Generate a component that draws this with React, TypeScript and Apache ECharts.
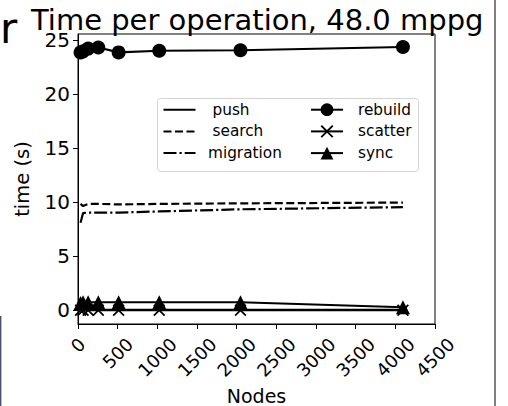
import React, { useEffect, useRef } from "react";
import * as echarts from "echarts";

const FONT = "DejaVu Sans";

const nodes = [32, 64, 128, 256, 512, 1024, 2048, 4096];
const push = [0.05, 0.05, 0.05, 0.05, 0.05, 0.05, 0.05, 0.05];
const search = [9.85, 9.65, 9.85, 9.85, 9.8, 9.85, 9.9, 9.97];
const migration = [8.1, 9.0, 9.05, 9.05, 9.05, 9.15, 9.35, 9.55];
const rebuild = [23.85, 23.95, 24.2, 24.3, 23.85, 24.0, 24.05, 24.35];
const scatter = [0.02, 0.02, 0.02, 0.02, 0.02, 0.02, 0.02, 0.02];
const sync = [0.7, 0.76, 0.76, 0.76, 0.76, 0.76, 0.76, 0.3];

const yTicks = [0, 5, 10, 15, 20, 25];
const titleText = "Time per operation, 48.0 mppg";

const X_PATH =
  "path://M1,0 L5,4 L9,0 L10,1 L6,5 L10,9 L9,10 L5,6 L1,10 L0,9 L4,5 L0,1 Z";

function pts(ys: number[]) {
  return nodes.map((x, i) => [x, ys[i]]);
}

export default function App() {
  const ref = useRef<HTMLDivElement>(null);
  useEffect(() => {
    if (!ref.current) return;
    const chart = echarts.init(ref.current, null, { renderer: "svg" });
    const xTickStyle = { fontSize: 18, fontFamily: FONT, color: "#000" };
    const lineBase = {
      type: "line" as const,
      showSymbol: false,
      symbol: "circle",
      itemStyle: { color: "#000" },
      silent: true,
    };
    const hidden = { opacity: 0, color: "rgba(0,0,0,0)", borderWidth: 0 };
    chart.setOption({
      animation: false,
      backgroundColor: "#fff",
      title: {
        text: titleText,
        left: 31,
        top: 5,
        padding: 0,
        textStyle: { fontSize: 29, fontWeight: "normal", color: "#000", fontFamily: FONT },
      },
      grid: {
        left: 78,
        right: 73,
        top: 34,
        bottom: 82,
        show: true,
        borderColor: "#000",
        borderWidth: 1,
        backgroundColor: "transparent",
        containLabel: false,
        outerBoundsMode: "none",
      },
      xAxis: {
        type: "value",
        min: 0,
        max: 4500,
        interval: 500,
        name: "Nodes",
        nameLocation: "middle",
        nameGap: 61,
        nameTextStyle: { fontSize: 19, fontFamily: FONT, color: "#000", lineHeight: 19 },
        axisLine: { show: true, onZero: false, lineStyle: { color: "#000", width: 1 } },
        axisTick: { show: true, length: 5, lineStyle: { color: "#000", width: 1 } },
        splitLine: { show: false },
        axisLabel: {
          rotate: 45,
          align: "center",
          verticalAlign: "middle",
          margin: 21,
          hideOverlap: false,
          formatter: (v: number) => `{l${String(v).length}|${v}}`,
          rich: {
            l1: { ...xTickStyle, padding: [0, 0, 0, 0] },
            l3: { ...xTickStyle, padding: [11.5, 11.5, 0, 0] },
            l4: { ...xTickStyle, padding: [17.2, 17.2, 0, 0] },
          },
        },
      },
      yAxis: {
        type: "value",
        min: -1.25,
        max: 25.55,
        name: "time (s)",
        nameLocation: "middle",
        nameGap: 46,
        nameRotate: 90,
        nameTextStyle: { fontSize: 19.5, fontFamily: FONT, color: "#000" },
        axisLine: { show: true, onZero: false, lineStyle: { color: "#000", width: 1 } },
        axisTick: {
          show: true,
          length: 5,
          customValues: yTicks,
          lineStyle: { color: "#000", width: 1 },
        },
        splitLine: { show: false },
        axisLabel: {
          fontSize: 20,
          fontFamily: FONT,
          color: "#000",
          margin: 8,
          customValues: yTicks,
        },
      },
      legend: [
        {
          orient: "vertical",
          left: 162.5,
          top: 102.2,
          padding: 0,
          itemWidth: 32,
          itemHeight: 16,
          itemGap: 6.7,
          selectedMode: false,
          z: 5,
          lineStyle: { width: 2 },
          textStyle: { fontSize: 15.3, fontFamily: FONT, color: "#000" },
          data: [
            { name: "push", itemStyle: hidden, textStyle: { padding: [0, 0, 0, 12] } },
            { name: "search", itemStyle: hidden, textStyle: { padding: [0, 0, 0, 12] } },
            { name: "migration", itemStyle: hidden, textStyle: { padding: [0, 0, 0, 7.5] } },
          ],
        },
        {
          orient: "vertical",
          left: 310,
          top: 102.2,
          padding: 0,
          itemWidth: 32,
          itemHeight: 16,
          itemGap: 6.7,
          selectedMode: false,
          z: 5,
          lineStyle: { width: 2 },
          textStyle: { fontSize: 15.3, fontFamily: FONT, color: "#000", padding: [0, 0, 0, 10] },
          data: ["rebuild", "scatter", "sync"],
        },
      ],
      graphic: [
        {
          type: "rect",
          z: 3,
          shape: { x: 157.5, y: 98.5, width: 261, height: 73, r: 3 },
          style: { fill: "rgba(255,255,255,0.8)", stroke: "#d5d5d5", lineWidth: 1 },
        },
        {
          type: "text",
          z: 3,
          x: 0,
          y: 28,
          style: { text: "r", font: `42px "${FONT}"`, fill: "#000", verticalAlign: "middle" },
        },
        {
          type: "line",
          z: 3,
          shape: { x1: 495, y1: 0, x2: 495, y2: 406 },
          style: { stroke: "#3a3a3a", lineWidth: 1.3 },
        },
        {
          type: "line",
          z: 3,
          shape: { x1: 0.7, y1: 316, x2: 0.7, y2: 406 },
          style: { stroke: "#4b5072", lineWidth: 1.4 },
        },
      ],
      series: [
        { ...lineBase, name: "push", data: pts(push), lineStyle: { color: "#000", width: 2.2 } },
        {
          ...lineBase,
          name: "search",
          data: pts(search),
          lineStyle: { color: "#000", width: 2.2, type: [8, 3.5] },
        },
        {
          ...lineBase,
          name: "migration",
          data: pts(migration),
          lineStyle: { color: "#000", width: 2.2, type: [13, 3, 2.2, 3] },
        },
        {
          type: "line",
          name: "rebuild",
          data: pts(rebuild),
          symbol: "circle",
          symbolSize: 14,
          itemStyle: { color: "#000" },
          lineStyle: { color: "#000", width: 2.2 },
          silent: true,
        },
        {
          type: "line",
          name: "scatter",
          data: pts(scatter),
          symbol: X_PATH,
          symbolSize: 12,
          itemStyle: { color: "#000" },
          lineStyle: { color: "#000", width: 2.2 },
          silent: true,
        },
        {
          type: "line",
          name: "sync",
          data: pts(sync),
          symbol: "triangle",
          symbolSize: 14,
          itemStyle: { color: "#000" },
          lineStyle: { color: "#000", width: 2.2 },
          silent: true,
        },
      ],
    });
    return () => chart.dispose();
  }, []);
  return (
    <div
      ref={ref}
      style={{ position: "absolute", left: 0, top: 0, width: 508, height: 406, background: "#fff" }}
    />
  );
}
